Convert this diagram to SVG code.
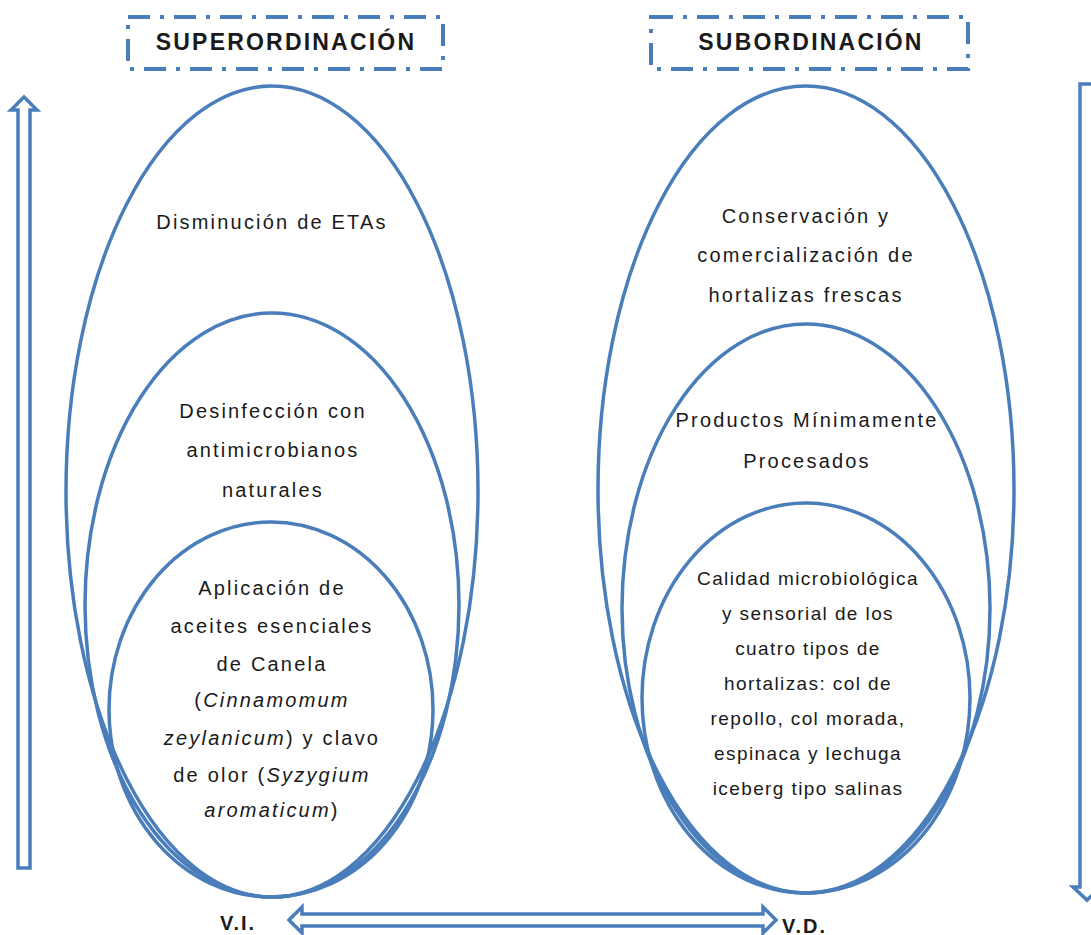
<svg xmlns="http://www.w3.org/2000/svg" width="1091" height="935" viewBox="0 0 1091 935">
<style>
.ell{fill:none;stroke:#4A7EBB;stroke-width:3.5}
.box{fill:none;stroke:#4A7EBB;stroke-width:4;stroke-dasharray:22 10 4 10}
.arr{fill:#fff;stroke:#4A7EBB;stroke-width:3.5;stroke-linejoin:miter}
.t{font-family:"Liberation Sans",Arial,sans-serif;font-size:20px;letter-spacing:2.2px;fill:#1a1a1a;text-anchor:middle}
.ts{font-family:"Liberation Sans",Arial,sans-serif;font-size:19px;letter-spacing:1.4px;fill:#1a1a1a;text-anchor:middle}
.h{font-family:"Liberation Sans",Arial,sans-serif;font-size:23px;font-weight:bold;letter-spacing:2.2px;fill:#1a1a1a;text-anchor:middle}
.v{font-family:"Liberation Sans",Arial,sans-serif;font-size:20px;font-weight:bold;letter-spacing:2px;fill:#1a1a1a}
.i{font-style:italic}
</style>
<rect width="1091" height="935" fill="#fff"/>
<g id="superordinacion">
<rect class="box" x="128" y="17" width="315" height="52"/>
<text class="h" x="286" y="50">SUPERORDINACIÓN</text>
</g>
<g id="subordinacion">
<rect class="box" x="651" y="17" width="317" height="52"/>
<text class="h" x="811" y="50">SUBORDINACIÓN</text>
</g>
<g id="disminucion">
<ellipse class="ell" cx="272" cy="491.5" rx="206" ry="405.5"/>
<text class="t" x="272" y="229">Disminución de ETAs</text>
</g>
<g id="desinfeccion">
<ellipse class="ell" cx="272" cy="605" rx="187" ry="292"/>
<text class="t" x="273" y="418">Desinfección con</text>
<text class="t" x="273" y="457">antimicrobianos</text>
<text class="t" x="273" y="497">naturales</text>
</g>
<g id="aplicacion">
<ellipse class="ell" cx="271" cy="709.5" rx="162" ry="187.5"/>
<text class="t" x="272" y="595">Aplicación de</text>
<text class="t" x="272" y="633">aceites esenciales</text>
<text class="t" x="272" y="671">de Canela</text>
<text class="t" x="272" y="707">(<tspan class="i">Cinnamomum</tspan></text>
<text class="t" x="272" y="745"><tspan class="i">zeylanicum</tspan>) y clavo</text>
<text class="t" x="272" y="782">de olor (<tspan class="i">Syzygium</tspan></text>
<text class="t" x="272" y="817"><tspan class="i">aromaticum</tspan>)</text>
</g>
<g id="conservacion">
<ellipse class="ell" cx="806" cy="489.5" rx="208" ry="403.5"/>
<text class="t" x="806" y="223">Conservación y</text>
<text class="t" x="806" y="262">comercialización de</text>
<text class="t" x="806" y="302">hortalizas frescas</text>
</g>
<g id="productos">
<ellipse class="ell" cx="806" cy="608.5" rx="184" ry="284.5"/>
<text class="t" x="807" y="427">Productos Mínimamente</text>
<text class="t" x="807" y="468">Procesados</text>
</g>
<g id="calidad">
<ellipse class="ell" cx="806" cy="698" rx="164" ry="195"/>
<text class="ts" x="808" y="585">Calidad microbiológica</text>
<text class="ts" x="808" y="620">y sensorial de los</text>
<text class="ts" x="808" y="655">cuatro tipos de</text>
<text class="ts" x="808" y="690">hortalizas: col de</text>
<text class="ts" x="808" y="725">repollo, col morada,</text>
<text class="ts" x="808" y="760">espinaca y lechuga</text>
<text class="ts" x="808" y="795">iceberg tipo salinas</text>
</g>
<g id="connectors">
<polygon class="arr" points="18,868 18,110 11,110 24,97 37,110 30,110 30,868"/>
<polygon class="arr" points="1080,84 1094,84 1094,887 1101,887 1087,900 1073,887 1080,887"/>
<polygon class="arr" points="289,920 302,907 302,914 763,914 763,907 776,920 763,933 763,926 302,926 302,933"/>
</g>
<g id="labels">
<text class="v" x="220" y="930">V.I.</text>
<text class="v" x="782" y="933">V.D.</text>
</g>
</svg>
